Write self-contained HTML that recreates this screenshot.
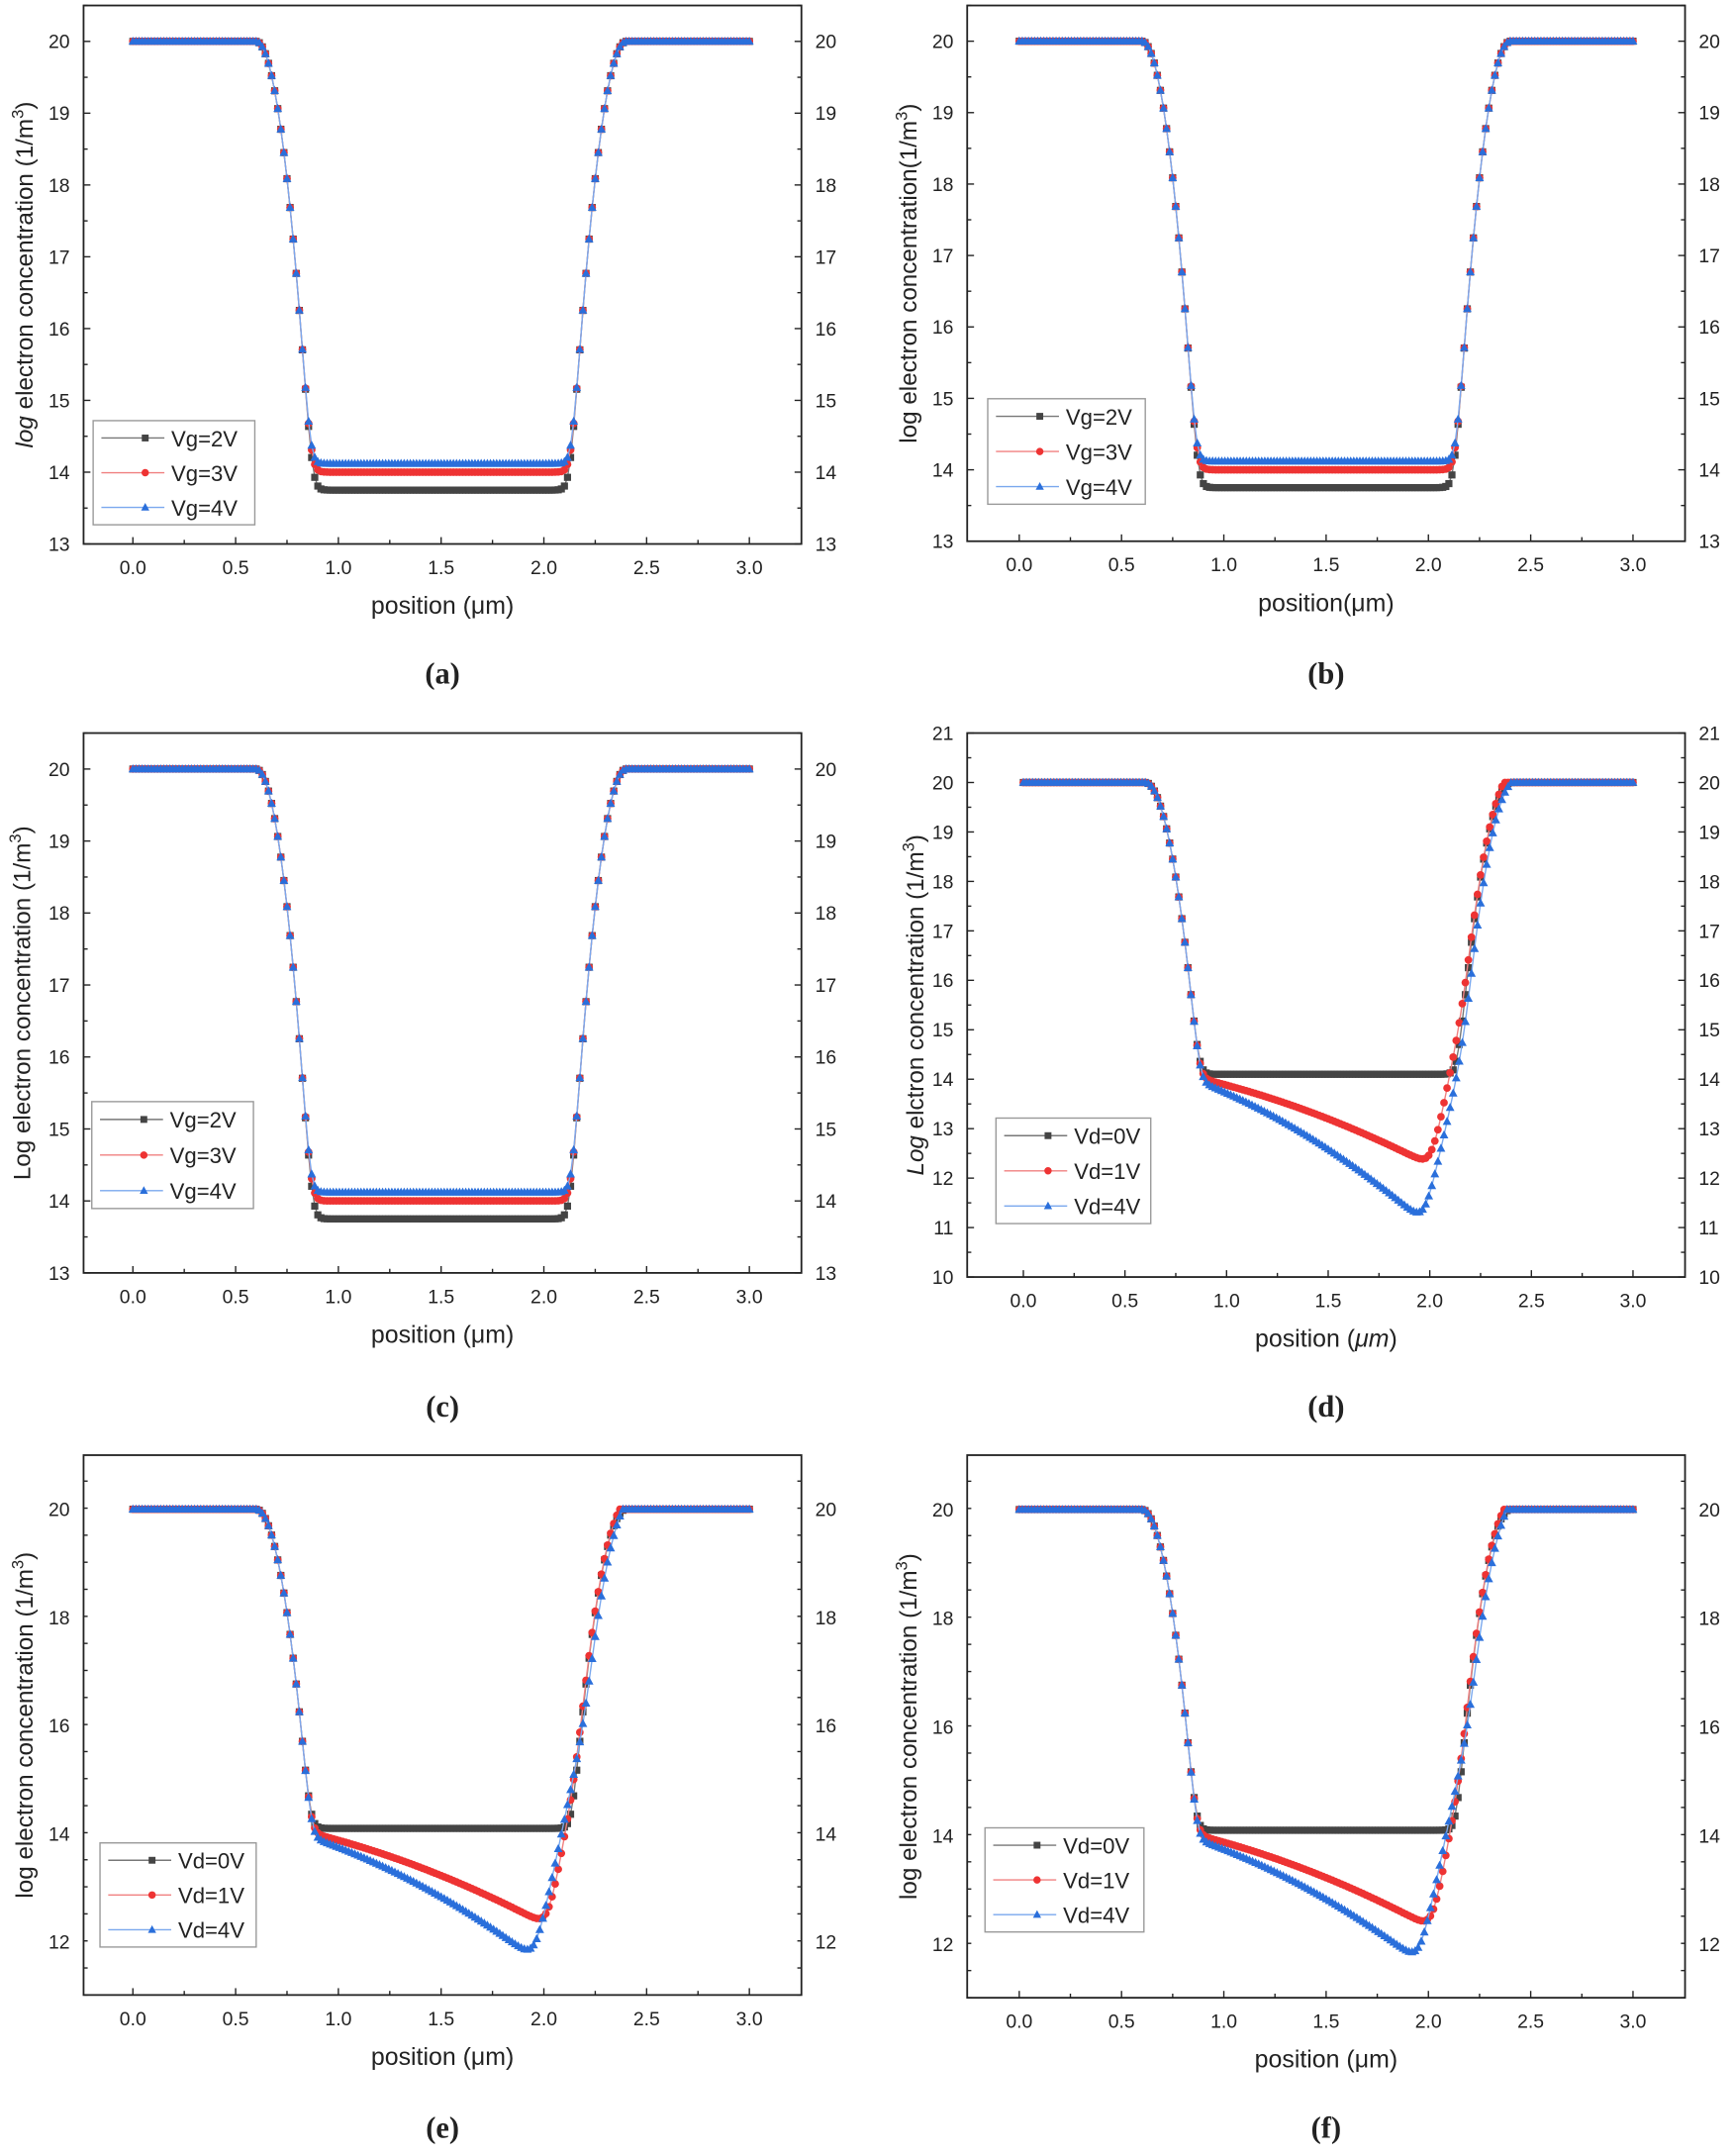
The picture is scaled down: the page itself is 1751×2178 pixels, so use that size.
<!DOCTYPE html>
<html><head><meta charset="utf-8"><style>
html,body{margin:0;padding:0;background:#fff;}
svg{display:block;}
text{font-family:"Liberation Sans",sans-serif;fill:#222;}
</style></head><body>
<svg id="s" width="1751" height="2178" viewBox="0 0 1265 1573.5" preserveAspectRatio="none" xmlns="http://www.w3.org/2000/svg"></svg>
<script>
const S=document.getElementById('s');let out='';
function lse(a){let m=Math.max(...a);return m+Math.log10(a.reduce((s,v)=>s+Math.pow(10,v-m),0));}
function prof(d){if(d<0)return 20;if(d<0.22)return 20-85*d*d;return 20-85*0.0484-37.4*(d-0.22);}
function gl(x){return prof(x-0.6);}
function grA(x,sh){return prof((2.4+(sh||0))-x);}
function fa(base){return x=>Math.min(20,lse([gl(x),base,grA(x)]));}
function fd(c0,c1,xm,r0,rx,rs,sh){return x=>{let t=(x-1)/(xm-1);let L=c0-(c0-c1)*(0.7*t+0.3*t*t);let R=r0+rs*(x-rx);return Math.min(20,lse([gl(x),L,R,grA(x,sh)]));};}
function fd0(x){return Math.min(20,lse([gl(x),14.1,grA(x)]));}
function panel(p){
 const {x0,x1,y0,y1,ymin,ymax,yt,xa,xb,ylab,lab,lx,leg,series,labY,xlabel,minor}=p;
 const X=v=>xa+(xb-xa)*v/3, Y=v=>y1-(y1-y0)*(v-ymin)/(ymax-ymin);
 out+=`<rect x="${x0}" y="${y0}" width="${x1-x0}" height="${y1-y0}" fill="none" stroke="#222" stroke-width="1.3"/>`;
 for(let v=ymin;v<=ymax+1e-6;v+=minor){let y=Y(v);let major=yt.some(t=>Math.abs(t-v)<1e-6);let l=major?5:3;
  out+=`<line x1="${x0}" x2="${x0+l}" y1="${y}" y2="${y}" stroke="#222"/><line x1="${x1}" x2="${x1-l}" y1="${y}" y2="${y}" stroke="#222"/>`;}
 for(const v of yt){let y=Y(v);out+=`<text x="${x0-10}" y="${y+5}" font-size="14" text-anchor="end">${v}</text><text x="${x1+10}" y="${y+5}" font-size="14">${v}</text>`;}
 for(let v=0;v<=3.001;v+=0.25){let x=X(v);let l=(Math.round(v*4)%2==0)?5:3;out+=`<line x1="${x}" x2="${x}" y1="${y1}" y2="${y1-l}" stroke="#222"/>`;}
 for(let v=0;v<=3.001;v+=0.5){out+=`<text x="${X(v)}" y="${y1+22}" font-size="14" text-anchor="middle">${v.toFixed(1)}</text>`;}
 out+=`<text x="${(x0+x1)/2}" y="${y1+51}" font-size="18" text-anchor="middle">${xlabel}</text>`;
 out+=`<text transform="translate(${lx},${(y0+y1)/2}) rotate(-90)" font-size="17.5" text-anchor="middle">${ylab}</text>`;
 out+=`<text x="${(x0+x1)/2}" y="${labY}" font-size="22" font-weight="bold" text-anchor="middle" style="font-family:'Liberation Serif',serif">${lab}</text>`;
 const cols=['#444','#ee3333','#2a6fdb'];const lc=['#777','#f08080','#7aa8ee'];
 series.forEach((f,i)=>{let pts=[];for(let k=0;k<=200;k++){let x=k*0.015;pts.push([X(x),Y(f(x))]);}
  out+=`<polyline points="${pts.map(p=>p.join(',')).join(' ')}" fill="none" stroke="${lc[i]}" stroke-width="1"/>`;
  let m='';for(const [px,py] of pts){
   if(i==0)m+=`<rect x="${px-2.6}" y="${py-2.6}" width="5.2" height="5.2"/>`;
   else if(i==1)m+=`<circle cx="${px}" cy="${py}" r="2.8"/>`;
   else m+=`<polygon points="${px},${py-3.5} ${px-3.2},${py+2.4} ${px+3.2},${py+2.4}"/>`;}
  out+=`<g fill="${cols[i]}">${m}</g>`;});
 const [bx,by,bw,bh,names]=leg;
 out+=`<rect x="${bx}" y="${by}" width="${bw}" height="${bh}" fill="#fff" stroke="#999"/>`;
 names.forEach((n,i)=>{let y=by+bh*(i+0.5)/3;let mx=bx+38;
  out+=`<line x1="${bx+6}" x2="${bx+52}" y1="${y}" y2="${y}" stroke="${lc[i]}"/>`;
  if(i==0)out+=`<rect x="${mx-2.5}" y="${y-2.5}" width="5" height="5" fill="${cols[0]}"/>`;
  else if(i==1)out+=`<circle cx="${mx}" cy="${y}" r="2.7" fill="${cols[1]}"/>`;
  else out+=`<polygon points="${mx},${y-3.3} ${mx-3},${y+2.3} ${mx+3},${y+2.3}" fill="${cols[2]}"/>`;
  out+=`<text x="${bx+57}" y="${y+6}" font-size="16">${n}</text>`;});
}
const vg=[fa(13.75),fa(14.0),fa(14.12)];
const vgN=['Vg=2V','Vg=3V','Vg=4V'],vdN=['Vd=0V','Vd=1V','Vd=4V'];
const sup='(1/m<tspan dy="-7" font-size="12">3</tspan><tspan dy="7">)</tspan>';
const yl1='<tspan font-style="italic">log</tspan> electron concentration '+sup;
const yl2='log electron concentration'+sup;
const yl3='Log electron concentration '+sup;
const yl4='<tspan font-style="italic">Log</tspan> elctron concentration '+sup;
const yl5='log electron concentration '+sup;
const T13=[13,14,15,16,17,18,19,20];
panel({x0:61,x1:585,y0:4,y1:397,ymin:13,ymax:20.5,yt:T13,minor:0.5,xa:97,xb:547,ylab:yl1,lx:24,lab:'(a)',labY:499,leg:[68,307,118,76,vgN],series:vg,xlabel:'position (μm)'});
panel({x0:706,x1:1230,y0:4,y1:395,ymin:13,ymax:20.5,yt:T13,minor:0.5,xa:744,xb:1192,ylab:yl2,lx:669,lab:'(b)',labY:499,leg:[721,291,115,77,vgN],series:vg,xlabel:'position(μm)'});
panel({x0:61,x1:585,y0:535,y1:929,ymin:13,ymax:20.5,yt:T13,minor:0.5,xa:97,xb:547,ylab:yl3,lx:22,lab:'(c)',labY:1034,leg:[67,804,118,78,vgN],series:vg,xlabel:'position (μm)'});
panel({x0:706,x1:1230,y0:535,y1:932,ymin:10,ymax:21,yt:[10,11,12,13,14,15,16,17,18,19,20,21],minor:0.5,xa:747,xb:1192,ylab:yl4,lx:674,lab:'(d)',labY:1034,leg:[727,816,113,77,vdN],series:[fd0,fd(13.88,12.35,1.96,12.5,2.02,20,0),fd(13.72,11.3,1.92,11.6,2.0,18,0.02)],xlabel:'position (<tspan font-style="italic">μm</tspan>)'});
const ef=[fd0,fd(13.88,12.4,1.97,12.5,2.03,20,0),fd(13.75,11.85,1.9,12.1,1.98,18,0.02)];
panel({x0:61,x1:585,y0:1062,y1:1456,ymin:11.02,ymax:21,yt:[12,14,16,18,20],minor:0.5,xa:97,xb:547,ylab:yl5,lx:24,lab:'(e)',labY:1560,leg:[73,1345,114,76,vdN],series:ef,xlabel:'position (μm)'});
panel({x0:706,x1:1230,y0:1062,y1:1458,ymin:11.02,ymax:21,yt:[12,14,16,18,20],minor:0.5,xa:744,xb:1192,ylab:yl5,lx:669,lab:'(f)',labY:1560,leg:[719,1334,116,76,vdN],series:ef,xlabel:'position (μm)'});
S.innerHTML=out;
</script>
</body></html>
